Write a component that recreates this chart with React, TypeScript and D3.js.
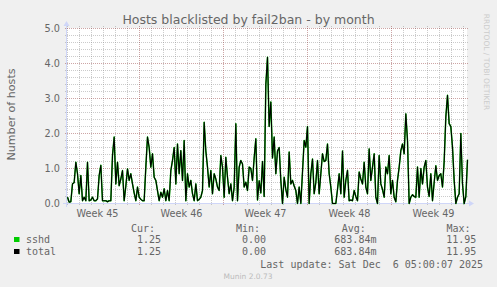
import React from "react";
import * as d3 from "d3";

const W = 497;
const H = 287;
const title = "Hosts blacklisted by fail2ban - by month";
const yLabel = "Number of hosts";
const yTicks = [0, 1, 2, 3, 4, 5];
const yTickLabels = ["0.0", "1.0", "2.0", "3.0", "4.0", "5.0"];
const weekLabels = ["Week 45", "Week 46", "Week 47", "Week 48", "Week 49"];
const startTime = Date.UTC(2025, 10, 3, 0, 0);
const spanHours = 800;

// hosts blacklisted, one value per 3h20m step
const hosts = [
  0.18, 0.04, 0.05, 0.56, 0.6, 1.18, 0.85, 0.28, 0.8, 0.08,
  0.18, 0.08, 1.18, 0.08, 0.1, 0.18, 0.08, 0.08, 0.13, 0.8,
  1.09, 0.08, 0.08, 0.08, 0.05, 0.08, 0.08, 1.37, 1.9, 0.56,
  1.18, 0.51, 0.7, 0.94, 0.08, 0.5, 0.99, 0.66, 0.85, 0.56,
  0.3, 0.08, 0.47, 0.18, 0.12, 0.08, 0.08, 1.04, 1.9, 1.6,
  1.04, 1.42, 0.75, 0.66, 0.37, 0.08, 0.32, 0.18, 0.42, 0.08,
  0.37, 0.08, 0.94, 1.23, 1.6, 0.56, 1.7, 0.85, 1.51, 0.66,
  1.8, 0.08, 0.85, 0.47, 0.66, 0.28, 0.08, 0.56, 0.08, 0.12,
  0.18, 0.37, 2.32, 1.5, 1.04, 0.47, 0.94, 0.28, 0.85, 0.7,
  0.47, 0.37, 1.37, 1.04, 0.18, 1.32, 0.75, 0.28, 0.56, 0.08,
  0.47, 2.28, 0.08, 1.04, 1.23, 1.13, 0.47, 0.61, 0.37, 1.04,
  1.0, 0.66, 1.3, 1.85, 0.1, 0.65, 0.3, 1.2, 0.2, 3.4,
  4.18, 2.2, 2.9, 1.3, 1.9, 0.85, 1.5, 1.6, 0.66, 0.0,
  0.75, 0.4, 0.18, 1.47, 0.56, 0.66, 0.5, 0.37, 0.0, 0.47,
  0.0, 0.9, 1.8, 1.61, 2.2, 0.0, 0.85, 1.27, 0.28, 0.6,
  1.23, 0.28, 0.85, 1.42, 1.2, 1.23, 1.7, 0.85, 0.47, 0.0,
  0.0, 0.0, 0.4, 0.85, 0.28, 1.5, 0.18, 0.66, 0.95, 0.08,
  0.1, 0.08, 0.37, 0.2, 0.08, 0.9, 0.7, 0.56, 1.18, 0.47,
  0.28, 1.56, 0.66, 1.04, 1.42, 0.18, 0.0, 1.37, 0.56, 0.4,
  0.18, 1.04, 0.85, 1.37, 0.28, 0.66, 0.18, 0.05, 0.66, 1.04,
  1.51, 1.7, 1.42, 2.56, 1.8, 0.0, 0.18, 0.25, 0.2, 0.18,
  1.04, 0.18, 1.0, 0.56, 1.04, 1.23, 0.47, 0.2, 0.85, 0.08,
  0.6, 1.08, 0.66, 0.8, 0.85, 0.47, 1.2, 2.47, 3.09, 2.28,
  2.2, 1.61, 0.66, 0.0, 0.18, 0.28, 2.0, 0.56, 0.0, 0.2,
  1.25,
];

const seriesNames = ["sshd", "total"];
const seriesColors = ["#00CC00", "#000000"];
const curVals = ["1.25", "1.25"];
const minVals = ["0.00", "0.00"];
const avgVals = ["683.84m", "683.84m"];
const maxVals = ["11.95", "11.95"];
const lastUpdate = "Last update: Sat Dec  6 05:00:07 2025";
const munin = "Munin 2.0.73";
const watermark = "RRDTOOL / TOBI OETIKER";

const X0 = 67, X1 = 467, Y0 = 203, Y1 = 28;
const GRID = "rgba(140,140,140,0.45)";
const MGRID = "rgba(130,30,30,0.4)";
const FONT = "#666666";
const AXIS = "#CFD6F8";
const SANS = "DejaVu Sans";
const MONO = "DejaVu Sans Mono";

export default function App() {
  const start = new Date(startTime);
  const end = new Date(startTime + spanHours * 3600e3);
  const stepMs = (spanHours * 3600e3) / (hosts.length - 1);
  const x = d3.scaleUtc().domain([start, end]).range([X0, X1]);
  const y = d3.scaleLinear().domain([0, 5]).range([Y0, Y1]);

  const days = d3.utcDay.range(start, end).filter((d) => d.getUTCDay() !== 0);
  const sundays = d3.utcSunday.range(start, end);
  const firstSunday = d3.utcSunday.floor(start);
  const labelCenters = weekLabels.map((_, i) =>
    d3.utcHour.offset(d3.utcWeek.offset(firstSunday, i), 84)
  );
  const minorY = d3.range(1, 25).map((k) => k * 0.2).filter((v) => Math.abs(v - Math.round(v)) > 1e-6);

  const line = d3
    .line<number>()
    .x((_, i) => x(new Date(startTime + i * stepMs)) + 0.5)
    .y((d) => y(d) + 0.5);
  const path = line(hosts) || "";

  return (
    <svg width={W} height={H} style={{ position: "absolute", left: 0, top: 0 }}>
      <rect x={0} y={0} width={W} height={H} fill="#F0F0F0" />
      <rect x={X0} y={Y1} width={X1 - X0} height={Y0 - Y1} fill="#FFFFFF" />
      {/* minor grid */}
      <g stroke={GRID} strokeWidth={1} fill="none">
        {minorY.map((v) => (
          <g key={"my" + v}>
            <line x1={X0 - 2} x2={X0} y1={y(v) + 0.5} y2={y(v) + 0.5} />
            <line x1={X0} x2={X1 + 2} y1={y(v) + 0.5} y2={y(v) + 0.5} strokeDasharray="1,1" />
          </g>
        ))}
        {days.map((d) => (
          <g key={"mx" + d.getTime()}>
            <line x1={x(d) + 0.5} x2={x(d) + 0.5} y1={Y0} y2={Y0 + 2} />
            <line x1={x(d) + 0.5} x2={x(d) + 0.5} y1={Y1 - 2} y2={Y0} strokeDasharray="1,1" />
          </g>
        ))}
      </g>
      {/* major grid */}
      <g stroke={MGRID} strokeWidth={1} fill="none">
        {yTicks.map((v) => (
          <g key={"My" + v}>
            <line x1={X0 - 2} x2={X0} y1={y(v) + 0.5} y2={y(v) + 0.5} />
            <line x1={X0} x2={X1 + 2} y1={y(v) + 0.5} y2={y(v) + 0.5} strokeDasharray="1,1" />
          </g>
        ))}
        {sundays.map((d) => (
          <g key={"Mx" + d.getTime()}>
            <line x1={x(d) + 0.5} x2={x(d) + 0.5} y1={Y0} y2={Y0 + 2} />
            <line x1={x(d) + 0.5} x2={x(d) + 0.5} y1={Y1 - 2} y2={Y0} strokeDasharray="1,1" />
          </g>
        ))}
      </g>
      {/* axes */}
      <line x1={X0 - 4} x2={X1 + 4} y1={Y0 + 0.5} y2={Y0 + 0.5} stroke={AXIS} strokeWidth={1} />
      <line x1={X0 - 0.5} x2={X0 - 0.5} y1={Y0 + 4} y2={Y1 - 4} stroke={AXIS} strokeWidth={1} />
      <polygon
        points={`${X1 + 2},${Y0 - 2.5} ${X1 + 2},${Y0 + 3.5} ${X1 + 7},${Y0 + 0.5}`}
        fill={AXIS}
      />
      <polygon
        points={`${X0 - 3.5},${Y1 - 2} ${X0 + 2.5},${Y1 - 2} ${X0 - 0.5},${Y1 - 7}`}
        fill={AXIS}
      />
      {/* data */}
      <path d={path} fill="none" stroke={seriesColors[0]} strokeWidth={1.5} strokeLinejoin="round" />
      <path d={path} fill="none" stroke={seriesColors[1]} strokeWidth={1.1} strokeLinejoin="round" />
      {/* y tick labels */}
      {yTicks.map((v, i) => (
        <text key={"yt" + v} x={60} y={y(v) + 4} textAnchor="end" fontFamily={SANS} fontSize={9.7} fill={FONT}>
          {yTickLabels[i]}
        </text>
      ))}
      {/* x labels */}
      {labelCenters.map((d, i) => (
        <text key={"xl" + i} x={x(d) + 0.5} y={216.5} textAnchor="middle" fontFamily={SANS} fontSize={9.7} fill={FONT}>
          {weekLabels[i]}
        </text>
      ))}
      {/* title */}
      <text x={248.5} y={23.5} textAnchor="middle" fontFamily={SANS} fontSize={12.5} fill={FONT}>
        {title}
      </text>
      <text
        transform="translate(15,114.5) rotate(-90)"
        textAnchor="middle"
        fontFamily={SANS}
        fontSize={11.1}
        fill={FONT}
      >
        {yLabel}
      </text>
      <text
        transform="translate(484,62) rotate(90)"
        textAnchor="middle"
        fontFamily={SANS}
        fontSize={7.5}
        fill="#CCCCCC"
      >
        {watermark}
      </text>
      {/* legend */}
      <g fontFamily={MONO} fontSize={10} fill={FONT} style={{ whiteSpace: "pre" }}>
        <text x={131} y={231.5}>Cur:</text>
        <text x={236} y={231.5}>Min:</text>
        <text x={341.7} y={231.5}>Avg:</text>
        <text x={446.5} y={231.5}>Max:</text>
        {seriesNames.map((n, i) => {
          const yy = 243 + i * 12;
          return (
            <g key={n}>
              <rect x={14} y={yy - 6} width={5.5} height={5} fill={seriesColors[i]} />
              <text x={26} y={yy}>{n}</text>
              <text x={137} y={yy}>{curVals[i]}</text>
              <text x={242} y={yy}>{minVals[i]}</text>
              <text x={334.3} y={yy}>{avgVals[i]}</text>
              <text x={446.2} y={yy}>{maxVals[i]}</text>
            </g>
          );
        })}
        <text x={260.3} y={267.5} xmlSpace="preserve" style={{ whiteSpace: "pre" }}>{lastUpdate}</text>
      </g>
      <text x={248} y={279} textAnchor="middle" fontFamily={SANS} fontSize={7.5} fill="#BBBBBB">
        {munin}
      </text>
    </svg>
  );
}
